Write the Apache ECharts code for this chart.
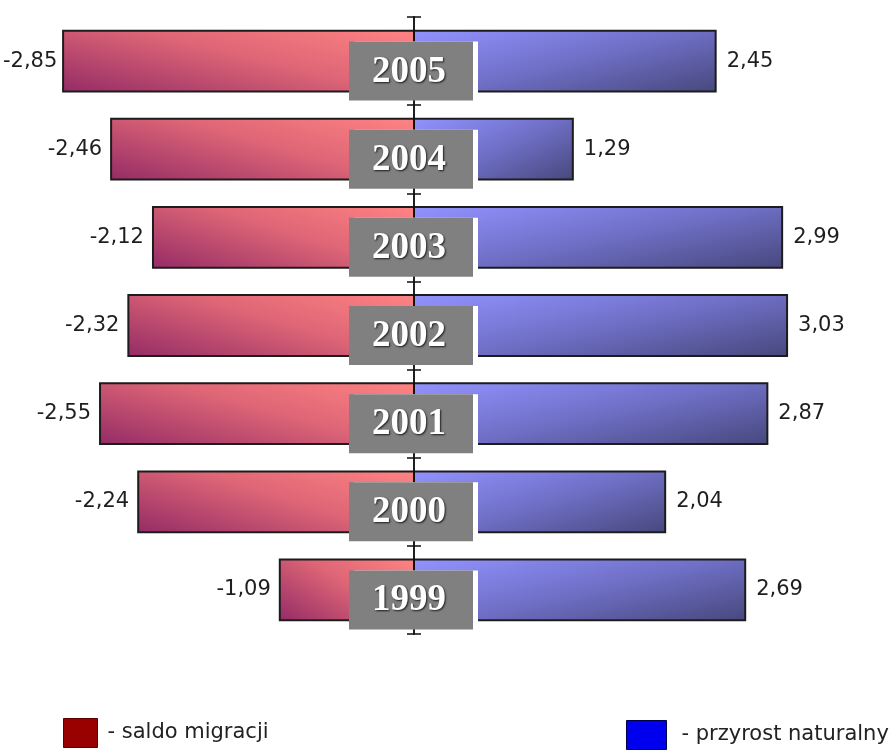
<!DOCTYPE html>
<html>
<head>
<meta charset="utf-8">
<script src="https://cdn.jsdelivr.net/npm/echarts@6/dist/echarts.min.js"></script>
<style>
  html, body { margin: 0; padding: 0; background: #ffffff; }
  #chart { width: 890px; height: 751px; }
</style>
</head>
<body>
<div id="chart"></div>
<script>
// ---- data ----
const years = ['2005', '2004', '2003', '2002', '2001', '2000', '1999'];
const saldoMigracji = [-2.85, -2.46, -2.12, -2.32, -2.55, -2.24, -1.09];
const przyrostNaturalny = [2.45, 1.29, 2.99, 3.03, 2.87, 2.04, 2.69];
const seriesNames = ['saldo migracji', 'przyrost naturalny'];

const LABEL_FONT = '21px "DejaVu Sans"';
const measureCtx = document.createElement('canvas').getContext('2d');
measureCtx.font = LABEL_FONT;

function fmt(v) { return v.toFixed(2).replace('.', ','); }

// gradient whose parameter is t = a*fx + b*fy in the bar's normalized space
function barGradient(x, y, w, h, fromRight, a, b, stops) {
  const K = 1 / (a * a / (w * w) + b * b / (h * h));
  const sx = fromRight ? x + w : x;
  const sy = y;
  const vx = (fromRight ? -1 : 1) * a * K / w;
  const vy = b * K / h;
  return new echarts.graphic.LinearGradient(sx, sy, sx + vx, sy + vy, stops, true);
}

function makeBarRenderer(negative) {
  return function (params, api) {
    const v = api.value(0);
    const c = api.value(1);
    const p0 = api.coord([0, c]);
    const p1 = api.coord([v, c]);
    const band = api.size([0, 1])[1];
    const bh = band * 0.69;
    const x = Math.min(p0[0], p1[0]);
    const w = Math.max(Math.abs(p1[0] - p0[0]), 1);
    const y = p0[1] - bh / 2;
    const fill = negative
      ? barGradient(x, y, w, bh, true, 0.58, 0.42, [
          { offset: 0, color: '#ff8383' },
          { offset: 0.45, color: '#de6676' },
          { offset: 1, color: '#952c66' }
        ])
      : barGradient(x, y, w, bh, false, 0.55, 0.45, [
          { offset: 0, color: '#9292ff' },
          { offset: 0.5, color: '#7070c8' },
          { offset: 1, color: '#48487e' }
        ]);
    const text = fmt(v);
    let labelX, align;
    if (negative) {
      const tw = measureCtx.measureText(text).width;
      labelX = Math.max(3, x - 9 - tw);
      align = 'left';
    } else {
      labelX = x + w + 11;
      align = 'left';
    }
    return {
      type: 'group',
      children: [
        {
          type: 'rect',
          shape: { x: x, y: y, width: w, height: bh },
          style: { fill: fill, stroke: '#1c1c1c', lineWidth: 2 }
        },
        {
          type: 'text',
          style: {
            text: text,
            x: labelX,
            y: p0[1],
            align: align,
            verticalAlign: 'middle',
            fill: '#1e1e1e',
            font: LABEL_FONT
          }
        }
      ]
    };
  };
}

function yearBoxRenderer(params, api) {
  const c = api.value(1);
  const p = api.coord([0, c]);
  const bw = 124, bh = 59;
  const cx = p[0] - 3;
  const cy = p[1] + 10;
  return {
    type: 'group',
    children: [
      { type: 'rect', shape: { x: cx - bw / 2 + 5, y: cy - bh / 2, width: bw, height: bh - 6 }, style: { fill: '#ffffff' } },
      { type: 'rect', shape: { x: cx - bw / 2, y: cy - bh / 2, width: bw, height: bh }, style: { fill: '#808080' } },
      {
        type: 'text',
        style: {
          text: years[c],
          x: cx - 2,
          y: cy + 1,
          align: 'center',
          verticalAlign: 'middle',
          fill: '#ffffff',
          font: 'bold 37px "Liberation Serif"',
          textShadowColor: 'rgba(0,0,0,0.8)',
          textShadowBlur: 2,
          textShadowOffsetX: 1,
          textShadowOffsetY: 1
        }
      }
    ]
  };
}

const chart = echarts.init(document.getElementById('chart'), null, { renderer: 'canvas' });

const axisLineStyle = { color: '#111111', width: 1.5 };

const option = {
  backgroundColor: '#ffffff',
  animation: false,
  grid: { left: 20, right: 82, top: 17, bottom: 117, containLabel: false },
  xAxis: { type: 'value', min: -3.2, max: 3.2, show: false },
  yAxis: [
    {
      type: 'category', data: years, inverse: true, position: 'left', z: 5,
      axisLine: { show: true, onZero: true, onZeroAxisIndex: 0, lineStyle: axisLineStyle },
      axisTick: { show: true, length: 7, lineStyle: axisLineStyle },
      axisLabel: { show: false }, splitLine: { show: false }
    },
    {
      type: 'category', data: years, inverse: true, position: 'right', z: 5,
      axisLine: { show: true, onZero: true, onZeroAxisIndex: 0, lineStyle: axisLineStyle },
      axisTick: { show: true, length: 7, lineStyle: axisLineStyle },
      axisLabel: { show: false }, splitLine: { show: false }
    }
  ],
  legend: [
    {
      left: 63, top: 718, padding: 0, icon: 'rect', itemWidth: 34, itemHeight: 29,
      formatter: '- {name}',
      textStyle: { fontFamily: 'DejaVu Sans', fontSize: 21, color: '#222222', padding: [6, 0, 0, 5] },
      data: [{ name: seriesNames[0], itemStyle: { color: '#990000', borderColor: '#5a0000', borderWidth: 1 } }]
    },
    {
      left: 626, top: 720, padding: 0, icon: 'rect', itemWidth: 40, itemHeight: 29,
      formatter: '- {name}',
      textStyle: { fontFamily: 'DejaVu Sans', fontSize: 21, color: '#222222', padding: [6, 0, 0, 10] },
      data: [{ name: seriesNames[1], itemStyle: { color: '#0000ee', borderColor: '#00004a', borderWidth: 1 } }]
    }
  ],
  series: [
    {
      name: seriesNames[0], type: 'custom', z: 2,
      itemStyle: { color: '#990000' },
      encode: { x: 0, y: 1 },
      data: saldoMigracji.map((v, i) => [v, i]),
      renderItem: makeBarRenderer(true)
    },
    {
      name: seriesNames[1], type: 'custom', z: 2,
      itemStyle: { color: '#0000ee' },
      encode: { x: 0, y: 1 },
      data: przyrostNaturalny.map((v, i) => [v, i]),
      renderItem: makeBarRenderer(false)
    },
    {
      name: 'rok', type: 'custom', z: 10,
      encode: { x: 0, y: 1 },
      data: years.map((y, i) => [0, i]),
      renderItem: yearBoxRenderer
    }
  ]
};

chart.setOption(option);
</script>
</body>
</html>
